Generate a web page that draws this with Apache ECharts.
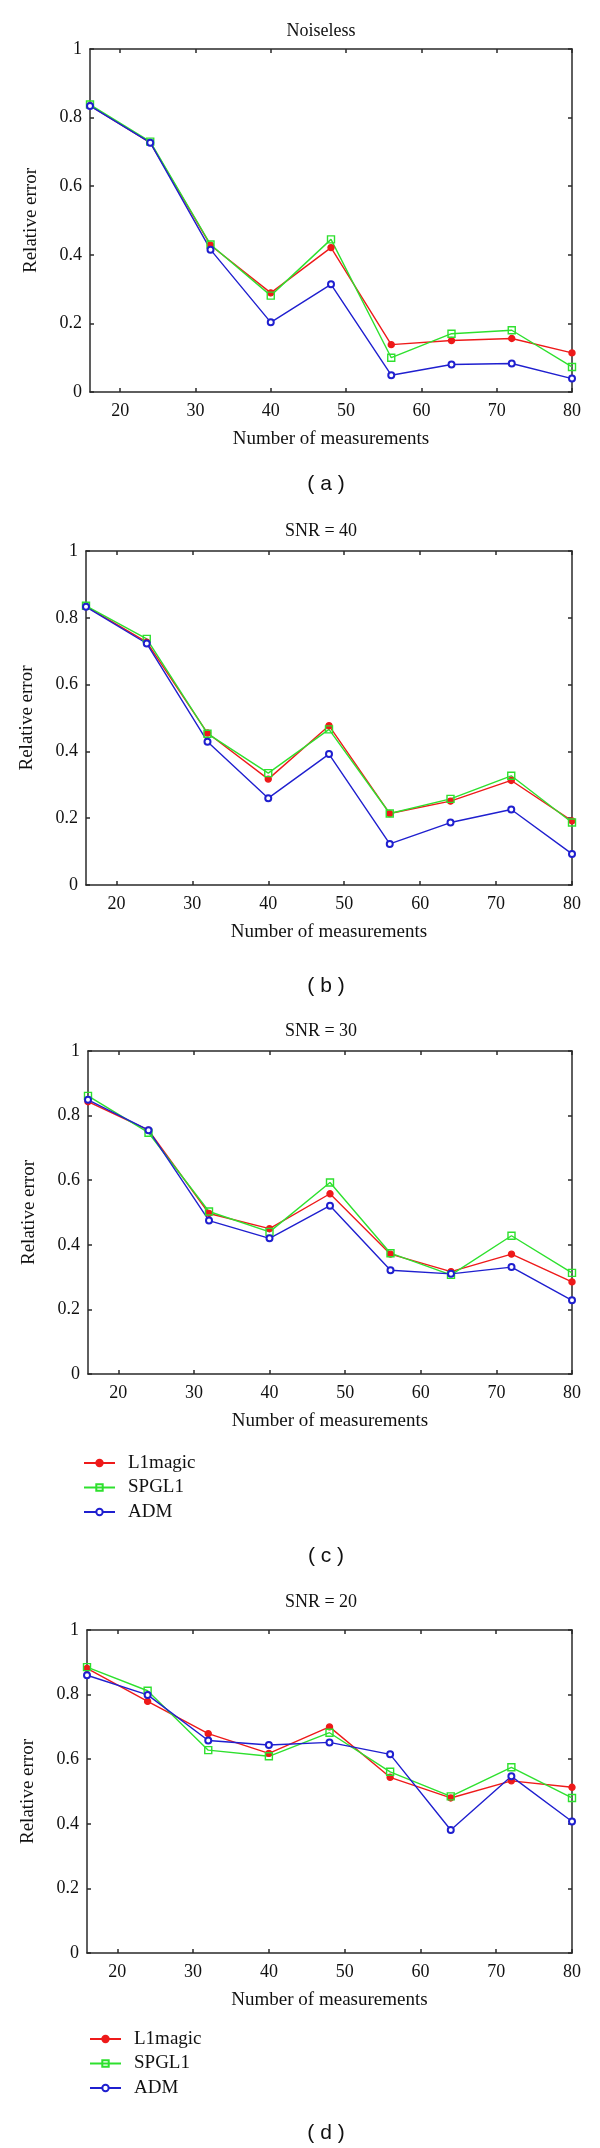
<!DOCTYPE html>
<html>
<head>
<meta charset="utf-8">
<script src="https://cdn.jsdelivr.net/npm/echarts@6/dist/echarts.min.js"></script>
<style>
html, body { margin: 0; padding: 0; background: #fff; }
#chart { width: 600px; height: 2148px; }
</style>
</head>
<body>
<div id="chart"></div>
<script>
// x values and tick labels
const measurements = [16, 24, 32, 40, 48, 56, 64, 72, 80];
const xTicks = [20, 30, 40, 50, 60, 70, 80];

const panelTitles = ['Noiseless', 'SNR = 40', 'SNR = 30', 'SNR = 20'];
const panelTags = ['( a )', '( b )', '( c )', '( d )'];
const methods = ['L1magic', 'SPGL1', 'ADM'];

// (a) Noiseless
const noiselessL1magic = [0.835, 0.727, 0.428, 0.289, 0.421, 0.138, 0.150, 0.156, 0.114];
const noiselessSPGL1   = [0.838, 0.730, 0.430, 0.281, 0.445, 0.100, 0.170, 0.180, 0.073];
const noiselessADM     = [0.834, 0.727, 0.415, 0.203, 0.314, 0.049, 0.080, 0.083, 0.039];

// (b) SNR = 40
const snr40L1magic = [0.834, 0.727, 0.455, 0.317, 0.477, 0.214, 0.251, 0.313, 0.192];
const snr40SPGL1   = [0.836, 0.737, 0.453, 0.335, 0.466, 0.214, 0.258, 0.327, 0.187];
const snr40ADM     = [0.833, 0.723, 0.429, 0.260, 0.392, 0.123, 0.187, 0.226, 0.093];

// (c) SNR = 30
const snr30L1magic = [0.843, 0.755, 0.497, 0.450, 0.558, 0.371, 0.317, 0.371, 0.285];
const snr30SPGL1   = [0.861, 0.747, 0.503, 0.440, 0.593, 0.374, 0.307, 0.428, 0.313];
const snr30ADM     = [0.849, 0.755, 0.475, 0.420, 0.521, 0.321, 0.310, 0.331, 0.228];

// (d) SNR = 20
const snr20L1magic = [0.881, 0.779, 0.679, 0.618, 0.700, 0.544, 0.480, 0.533, 0.513];
const snr20SPGL1   = [0.885, 0.812, 0.628, 0.609, 0.682, 0.561, 0.485, 0.575, 0.480];
const snr20ADM     = [0.860, 0.799, 0.658, 0.644, 0.652, 0.615, 0.381, 0.547, 0.407];

const panelData = [
    [noiselessL1magic, noiselessSPGL1, noiselessADM],
    [snr40L1magic, snr40SPGL1, snr40ADM],
    [snr30L1magic, snr30SPGL1, snr30ADM],
    [snr20L1magic, snr20SPGL1, snr20ADM]
];

// layout of the four plots
const grids = [
    { left: 90, top: 49, width: 482, height: 343 },
    { left: 86, top: 551, width: 486, height: 334 },
    { left: 88, top: 1051, width: 484, height: 323 },
    { left: 87, top: 1630, width: 485, height: 323 }
];
const titleCenters = [31, 531, 1031, 1602];
const tagCenters = [484, 986, 1556, 2133];

const serif = '"Liberation Serif", "DejaVu Serif", serif';
const axisColor = '#2a2a2a';
const colors = ['#ee1a1a', '#2ee02e', '#1f1fcf'];
const symbols = ['circle', 'rect', 'emptyCircle'];
const symbolSizes = [6, 7, 6];

let xAxes = [];
let yAxes = [];
let series = [];
let titles = [];

// bottom / left axes with labels
grids.forEach((g, i) => {
    xAxes.push({
        gridIndex: i,
        type: 'value',
        min: 16,
        max: 80,
        name: 'Number of measurements',
        nameLocation: 'middle',
        nameGap: 38,
        nameTextStyle: { fontFamily: serif, fontSize: 19, color: '#111' },
        axisLine: { show: true, onZero: false, lineStyle: { color: axisColor, width: 1.5 } },
        axisTick: { inside: true, length: 4, customValues: xTicks, lineStyle: { color: axisColor, width: 1.5 } },
        axisLabel: { customValues: xTicks, margin: 10, fontFamily: serif, fontSize: 18, color: '#111' },
        splitLine: { show: false }
    })
    yAxes.push({
        gridIndex: i,
        type: 'value',
        min: 0,
        max: 1,
        interval: 0.2,
        name: 'Relative error',
        nameLocation: 'middle',
        nameGap: 49,
        nameRotate: 90,
        nameTextStyle: { fontFamily: serif, fontSize: 19, color: '#111' },
        axisLine: { show: true, onZero: false, lineStyle: { color: axisColor, width: 1.5 } },
        axisTick: { show: true, inside: true, length: 4, lineStyle: { color: axisColor, width: 1.5 } },
        axisLabel: { margin: 8, fontFamily: serif, fontSize: 18, color: '#111' },
        splitLine: { show: false }
    })
})

// top / right axes to close the box
grids.forEach((g, i) => {
    xAxes.push({
        gridIndex: i,
        type: 'value',
        position: 'top',
        min: 16,
        max: 80,
        axisLine: { show: true, onZero: false, lineStyle: { color: axisColor, width: 1.5 } },
        axisTick: { inside: true, length: 4, customValues: xTicks, lineStyle: { color: axisColor, width: 1.5 } },
        axisLabel: { show: false, customValues: xTicks },
        splitLine: { show: false }
    })
    yAxes.push({
        gridIndex: i,
        type: 'value',
        position: 'right',
        min: 0,
        max: 1,
        interval: 0.2,
        axisLine: { show: true, onZero: false, lineStyle: { color: axisColor, width: 1.5 } },
        axisTick: { show: true, inside: true, length: 4, lineStyle: { color: axisColor, width: 1.5 } },
        axisLabel: { show: false },
        splitLine: { show: false }
    })
})

panelData.forEach((lines, i) => {
    lines.forEach((vals, m) => {
        series.push({
            type: 'line',
            name: methods[m],
            xAxisIndex: i,
            yAxisIndex: i,
            data: measurements.map((x, k) => [x, vals[k]]),
            symbol: symbols[m],
            symbolSize: symbolSizes[m],
            showAllSymbol: true,
            color: colors[m],
            lineStyle: { color: colors[m], width: 1.4 },
            itemStyle: m === 1
                ? { color: 'rgba(255,255,255,0)', borderColor: colors[m], borderWidth: 1.4 }
                : { color: colors[m], borderColor: colors[m], borderWidth: 1.4 },
            emphasis: { disabled: true },
            animation: false
        })
    })
    titles.push({
        text: panelTitles[i],
        left: 321,
        top: titleCenters[i] - 10,
        textAlign: 'center',
        padding: 0,
        textStyle: { fontFamily: serif, fontSize: 18, fontWeight: 'normal', color: '#111', lineHeight: 20 }
    })
    titles.push({
        text: panelTags[i],
        left: 326,
        top: tagCenters[i] - 12,
        textAlign: 'center',
        padding: 0,
        textStyle: { fontFamily: '"Liberation Sans", Arial, sans-serif', fontSize: 21, fontWeight: 'normal', color: '#111', lineHeight: 24 }
    })
})

const legendBase = {
    orient: 'vertical',
    itemWidth: 31,
    itemHeight: 8,
    itemGap: 4.5,
    padding: 0,
    data: methods,
    selectedMode: false,
    textStyle: { fontFamily: serif, fontSize: 19, color: '#111', lineHeight: 20, padding: [0, 0, 0, 8] }
}

let option = {
    backgroundColor: '#fff',
    animation: false,
    title: titles,
    grid: grids.map(g => Object.assign({ containLabel: false }, g)),
    legend: [
        Object.assign({ left: 83, top: 1453 }, legendBase),
        Object.assign({ left: 89, top: 2029 }, legendBase)
    ],
    xAxis: xAxes,
    yAxis: yAxes,
    series: series
}

let myChart = echarts.init(document.getElementById('chart'))
myChart.setOption(option)
</script>
</body>
</html>
